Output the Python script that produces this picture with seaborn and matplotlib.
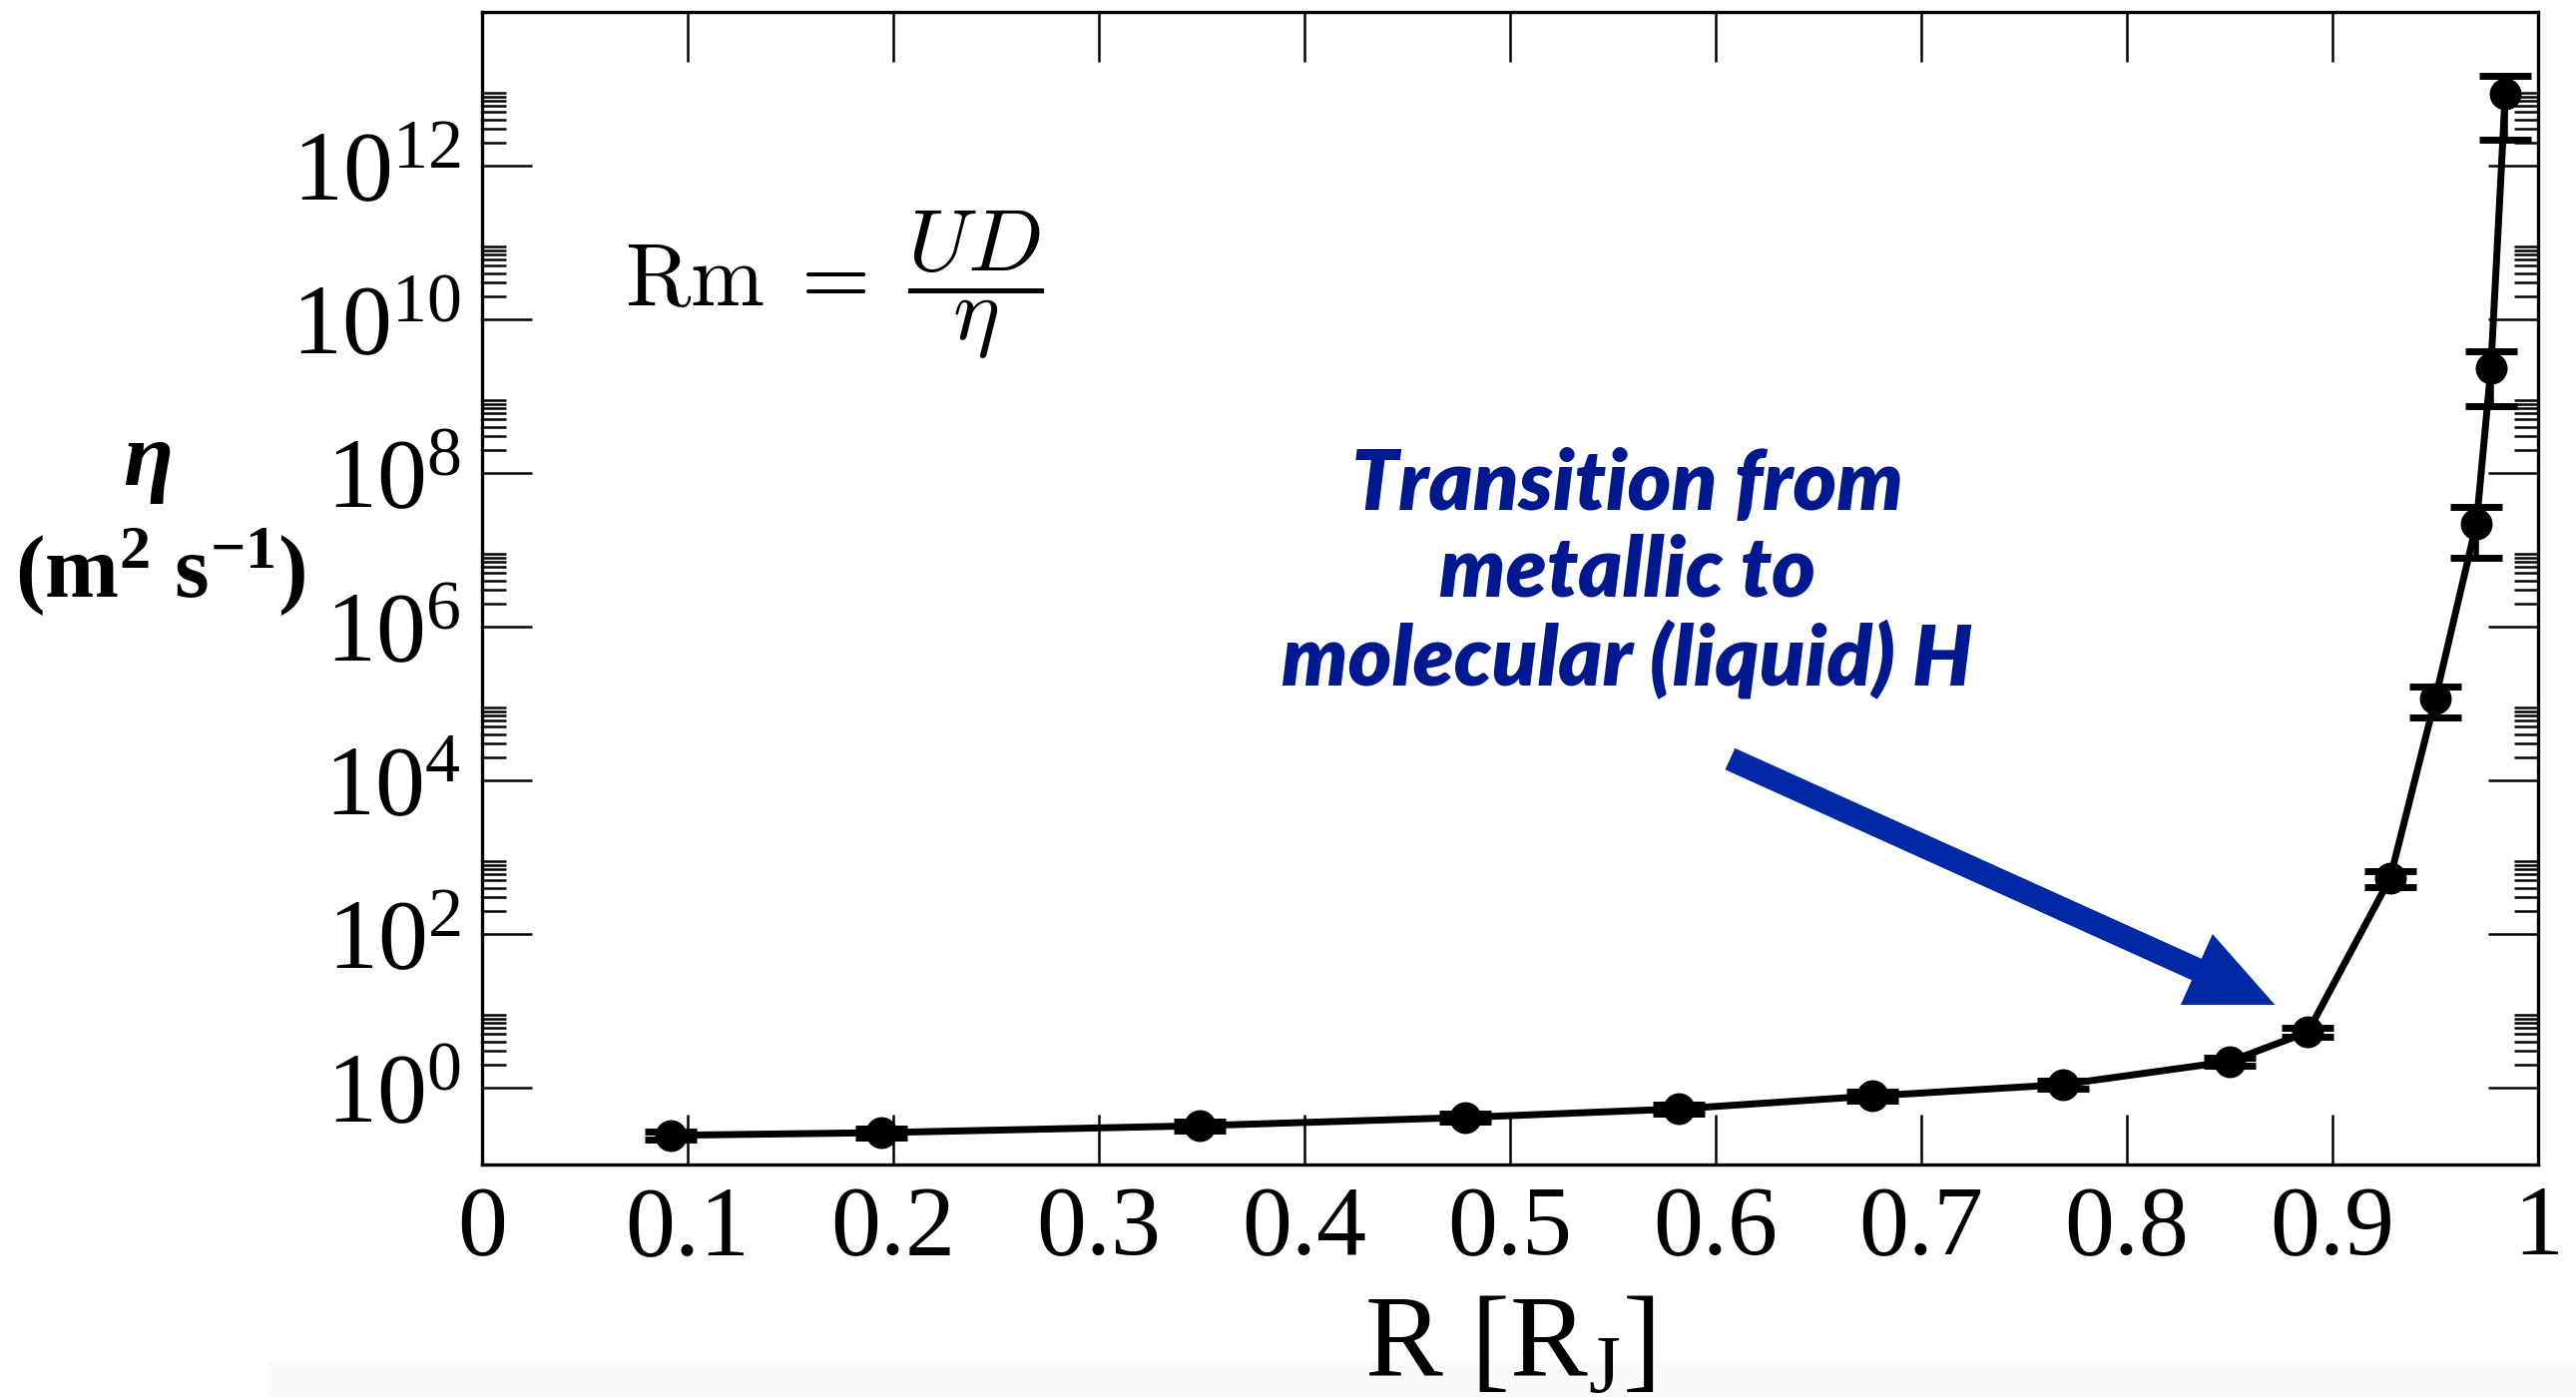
import numpy as np
import pandas as pd
import matplotlib
matplotlib.use("Agg")
import matplotlib.pyplot as plt
import seaborn as sns
from matplotlib.ticker import FixedLocator, FuncFormatter, NullFormatter, NullLocator
from matplotlib.patches import FancyArrowPatch, Rectangle

# Magnetic diffusivity profile across the Jovian interior
radius = [0.092, 0.194, 0.349, 0.478, 0.582, 0.676, 0.769, 0.850, 0.888,
          0.928, 0.950, 0.970, 0.977, 0.984]
eta = [0.24, 0.26, 0.32, 0.41, 0.53, 0.78, 1.1, 2.2, 5.3,
       5.3e2, 1.15e5, 2.2e7, 2.3e9, 8.5e12]
eta_err = [0.03, 0.033, 0.04, 0.05, 0.066, 0.1, 0.14, 0.28, 0.68,
           120, 5.0e4, 1.4e7, 1.55e9, 6.3e12]

x_ticks = [0.0, 0.1, 0.2, 0.3, 0.4, 0.5, 0.6, 0.7, 0.8, 0.9, 1.0]
x_tick_labels = ["0", "0.1", "0.2", "0.3", "0.4", "0.5", "0.6", "0.7", "0.8", "0.9", "1"]
y_exponents = [0, 2, 4, 6, 8, 10, 12]

annotation = "Transition from\nmetallic to\nmolecular (liquid) H"

sns.set_theme(style="white")
plt.rcParams.update({
    "font.family": ["Liberation Serif", "DejaVu Serif"],
    "mathtext.fontset": "custom",
    "mathtext.rm": "Liberation Serif",
    "mathtext.it": "Liberation Serif:italic",
    "mathtext.bf": "Liberation Serif:bold",
    "text.color": "black",
    "axes.labelcolor": "black",
    "axes.edgecolor": "black",
    "axes.linewidth": 2.4,
    "xtick.color": "black",
    "ytick.color": "black",
})

fig = plt.figure(figsize=(25.81, 14.0), dpi=100)
ax = fig.add_axes([0.1871, 0.1664, 0.7982, 0.825])

df = pd.DataFrame({"R": radius, "eta": eta, "err": eta_err})
sns.lineplot(data=df, x="R", y="eta", ax=ax, color="black", lw=5,
             marker="o", markersize=23, markeredgewidth=0, zorder=3)
ax.errorbar(df["R"], df["eta"], yerr=df["err"], fmt="none", ecolor="black",
            elinewidth=4, capsize=18.5, capthick=5, zorder=4)

ax.set_yscale("log")
ax.set_xlim(0, 1)
ax.set_ylim(1e-1, 1e14)

ax.xaxis.set_major_locator(FixedLocator(x_ticks))
ax.set_xticklabels(x_tick_labels)
ax.xaxis.set_minor_locator(NullLocator())

ax.yaxis.set_major_locator(FixedLocator([10.0 ** e for e in y_exponents]))
ax.yaxis.set_major_formatter(
    FuncFormatter(lambda v, pos: r"$\mathregular{10^{%d}}$" % round(np.log10(v))))
ax.yaxis.set_minor_locator(
    FixedLocator([k * 10.0 ** e for e in y_exponents for k in range(2, 10)]))
ax.yaxis.set_minor_formatter(NullFormatter())

ax.tick_params(which="both", direction="in", bottom=True, left=True,
               top=True, right=True, width=1.8, colors="black")
ax.tick_params(which="major", length=36, labelsize=72, pad=15)
ax.tick_params(which="minor", length=17)
ax.set_ylabel("")

ax.set_xlabel(r"R [R$_\mathregular{J}$]", fontsize=84)
ax.xaxis.set_label_coords(0.5, -0.184)
ax.xaxis.label.set_va("baseline")

# y-axis label: symbol and units on two lines
fig.text(148 / 2581, 1 - 464 / 1400, "η", fontsize=66, fontweight="bold",
         fontstyle="italic", ha="center", va="center")
fig.text(161 / 2581, 1 - 573 / 1400, r"(m$^\mathbf{2}$ s$^\mathbf{-1}$)",
         fontsize=64, fontweight="bold", ha="center", va="center")

# magnetic Reynolds number definition
ax.text(0.171, 0.763, r"$\mathrm{Rm}\;=\;\dfrac{UD}{\eta}$", transform=ax.transAxes,
        fontsize=64, math_fontfamily="cm", ha="center", va="center", color="black")

ax.text(0.557, 0.513, annotation, transform=ax.transAxes, ha="center", va="center",
        multialignment="center", fontsize=60, family="Lato", fontweight="heavy",
        fontstyle="italic", color="#001991", linespacing=1.15)

arrow = FancyArrowPatch((0.607, 1.9e4), (0.872, 12.0),
                        arrowstyle="simple,head_length=6.2,head_width=5.6,tail_width=1.7",
                        mutation_scale=10, color="#002AA5", lw=0,
                        shrinkA=0, shrinkB=0, zorder=5)
ax.add_patch(arrow)

fig.patches.append(Rectangle((268 / 2581, 0), 1, 35 / 1400, transform=fig.transFigure,
                             facecolor="#fafafa", edgecolor="none", zorder=-1))

fig.savefig("out.png", dpi=100, facecolor="white")
